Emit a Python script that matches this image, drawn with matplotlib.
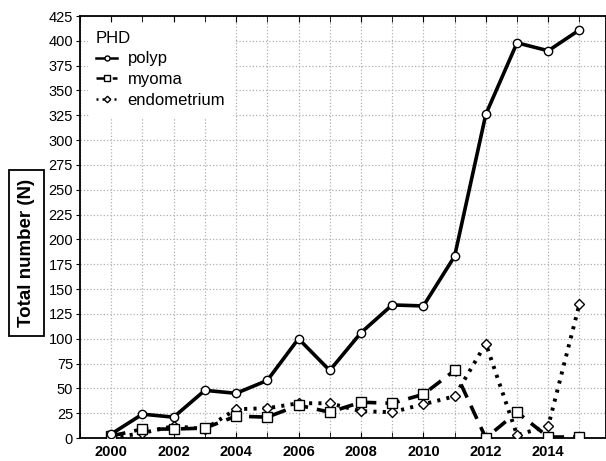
import matplotlib
matplotlib.use("Agg")
import matplotlib.pyplot as plt
from matplotlib.ticker import MultipleLocator

plt.rcParams['font.family'] = ['Liberation Sans', 'DejaVu Sans']

years = [2000, 2001, 2002, 2003, 2004, 2005, 2006, 2007, 2008, 2009, 2010, 2011, 2012, 2013, 2014, 2015]
polyp = [4, 24, 21, 48, 45, 58, 100, 68, 106, 134, 133, 183, 326, 398, 390, 411]
myoma = [2, 9, 9, 10, 22, 21, 33, 26, 36, 35, 44, 68, 0, 26, 1, 1]
endometrium = [0, 5, 12, 9, 29, 30, 35, 35, 27, 26, 34, 42, 95, 3, 12, 135]
legend_title = "PHD"
y_label = "Total number (N)"

fig = plt.figure(figsize=(6.06, 4.61), dpi=100)
ax = fig.add_axes([80/606, 23/461, 1 - 80/606, (438-16)/461])

ax.plot(years, polyp, '-', color='black', lw=2.6, marker='o', ms=6,
        mfc='white', mec='black', mew=1.0, label='polyp', zorder=5)
ax.plot(years, myoma, color='black', lw=2.6, ls=(0, (4, 2.5)), marker='s', ms=6.5,
        mfc='white', mec='black', mew=1.0, label='myoma', zorder=4)
ax.plot(years, endometrium, color='black', lw=2.8, ls=(0, (0.8, 1.6)), marker='D', ms=5.5,
        mfc='white', mec='black', mew=1.0, label='endometrium', zorder=3)

ax.set_xlim(1999, 2015.85)
ax.set_ylim(0, 425)
ax.xaxis.set_major_locator(MultipleLocator(2))
ax.xaxis.set_minor_locator(MultipleLocator(1))
ax.yaxis.set_major_locator(MultipleLocator(25))
ax.grid(which='both', axis='x', color='#b0b0b0', ls=':', lw=0.9)
ax.grid(which='major', axis='y', color='#b0b0b0', ls=':', lw=0.9)
ax.set_axisbelow(True)

ax.tick_params(axis='x', which='both', direction='in', top=True, length=4, labelsize=10.5, pad=5)
ax.tick_params(axis='y', which='major', direction='out', length=3, labelsize=10.5, pad=2)
for lab in ax.get_xticklabels():
    lab.set_fontweight('bold')
for s in ax.spines.values():
    s.set_linewidth(1.3)

leg = ax.legend(title=legend_title, loc='upper left', bbox_to_anchor=(0.0, 1.003),
                frameon=True, fontsize=12, title_fontsize=12, handlelength=1.3,
                handletextpad=0.6, labelspacing=0.35, borderpad=0.45, markerscale=0.6)
leg.get_frame().set_edgecolor('white')
leg.get_frame().set_facecolor('white')
leg.get_frame().set_alpha(1)
leg._legend_box.align = 'left'
for l in leg.get_lines():
    l.set_linewidth(1.8)

fig.text(26.5/606, 1 - 253/461, y_label, rotation=90, ha='center', va='center',
         fontsize=13.5, fontweight='bold',
         bbox=dict(boxstyle='square,pad=0.5', fc='white', ec='black', lw=1.3))

fig.savefig('out.png', dpi=100)
